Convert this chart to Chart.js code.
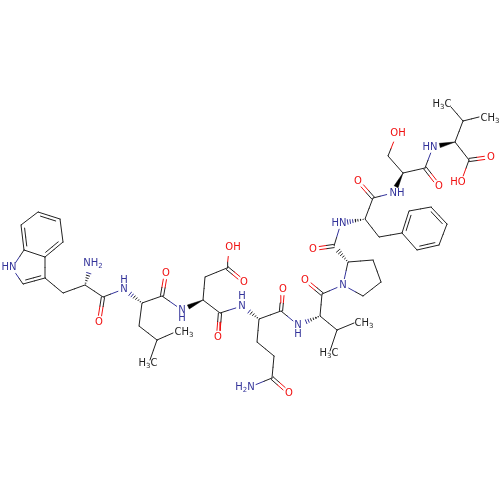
<!DOCTYPE html>
<html>
<head>
<meta charset="utf-8">
<script src="https://cdn.jsdelivr.net/npm/chart.js@4/dist/chart.umd.min.js"></script>
<style>
  html, body { margin: 0; padding: 0; background: #fff; }
  #molecule { display: block; }
</style>
</head>
<body>
<canvas id="molecule" width="500" height="500"></canvas>
<script>
// atoms: element letter and position on the 0-500 axes
const atomElement = [
  "C","C","C","C","C","C","N","C","C","C","C","C","N","O",      // 0-13  Trp
  "N","C","C","O","C","C","C","C",                              // 14-21 Leu
  "N","C","C","C","O","O","C","O",                              // 22-29 Asp
  "N","C","C","O","C","C","C","O","N",                          // 30-38 Gln
  "N","C","C","O","C","C","C",                                  // 39-45 Val
  "N","C","C","C","C","C","O",                                  // 46-52 Pro
  "N","C","C","O","C","C","C","C","C","C","C",                  // 53-63 Phe
  "N","C","C","O","C","O",                                      // 64-69 Ser
  "N","C","C","O","O","C","C","C"                               // 70-77 Val
];
const atomX = [
  38,60,63,45,24,21,12,23,45,63,85,103,91,99,
  124,142,162,166,139,157,150,173,
  182,203,220,205,218,229,227,244,
  242,259,281,283,257,274,272,289,250,
  298,320,322,305,337,354,330,
  343,348,373,381,363,334,313,
  341,365,373,358,379,402,409,431,447,439,417,
  393,403,425,439,388,396,
  433,455,469,491,461,463,479,451
];
const atomY = [
  212,219,242,257,250,225,268,284,278,293,285,297,266,322,
  289,303,296,273,326,340,360,333,
  310,300,313,277,337,250,268,282,
  306,319,311,289,342,356,378,393,387,
  325,316,294,280,330,323,351,
  285,262,260,282,296,246,249,
  223,219,198,181,237,233,211,207,224,245,250,
  193,173,168,186,156,136,
  147,142,160,157,182,121,117,107
];

// bonds between atom indexes. type: 1 single, 2 double, 3 ring double, 4 wedge, 5 hash
const bondFrom = [
  0,1,2,3,4,5,4,6,7,8,8,9,10,10,11,11,
  15,15,16,15,18,19,19,
  16,23,23,23,24,24,25,28,28,
  31,31,32,32,31,34,35,36,36,
  40,40,41,41,40,43,43,
  47,47,48,49,50,47,51,51,
  54,54,55,55,54,57,58,59,60,61,62,63,
  65,65,66,65,68,66,
  71,71,72,72,71,75,75
];
const bondTo = [
  1,2,3,4,5,0,6,7,8,3,9,10,12,11,13,14,
  14,16,17,18,19,20,21,
  22,22,24,25,26,30,28,27,29,
  30,32,33,39,34,35,36,37,38,
  39,41,42,46,43,44,45,
  46,48,49,50,46,51,52,53,
  53,55,56,64,57,58,59,60,61,62,63,58,
  64,66,67,68,69,70,
  70,72,73,74,75,76,77
];
const bondType = [
  3,1,3,1,3,1,1,1,3,1,1,1,5,1,2,1,
  5,1,2,1,1,1,1,
  1,4,1,1,2,1,1,1,2,
  5,1,2,1,1,1,1,2,1,
  5,1,2,1,1,1,1,
  1,1,1,1,1,5,2,1,
  5,1,2,1,1,1,3,1,3,1,3,1,
  4,1,2,1,1,1,
  4,1,2,1,1,1,1
];
const ringCentreX = [42, 425, 32];
const ringCentreY = [235, 228, 266];

// text labels, digits are drawn as subscripts
const labelText = [
  "HN","NH2","O","N","H","O","H3C","CH3","N","H","OH","O","O","N","H","O",
  "H2N","O","N","H","O","N","O","HN","O","NH","CH3","H3C","OH","O","HN","O","HO","CH3","H3C"
];
const labelX = [
  9,93,99,124,124,166,148,184,182,182,233,244,218,242,242,283,
  245,289,298,298,305,343,313,339,358,397,364,329,398,439,430,491,458,490,442
];
const labelY = [
  267,263,322,289,280,273,363,332,310,318,247,282,337,306,296,289,
  387,393,325,334,280,285,249,223,181,193,323,353,133,186,147,157,182,118,104
];

const INK = "#222222";
const BLUE = "#33339a";
const RED = "#f01010";
const FONT = "10px 'DejaVu Sans', sans-serif";
const SUB_FONT = "7px 'DejaVu Sans', sans-serif";
const LABEL_GAP = 6.5;

const elementColor = e => e === "N" ? BLUE : e === "O" ? RED : INK;
const isHetero = i => atomElement[i] !== "C";
const labelColor = t => t.includes("C") ? INK : t.includes("N") ? BLUE : t === "H" ? BLUE : RED;

// pieces of line per colour, NaN points break the line between them
const pieces = { [INK]: [], [BLUE]: [], [RED]: [] };
const wedges = [];

function addPiece(color, x1, y1, x2, y2) {
  pieces[color].push({ x: x1, y: y1 }, { x: x2, y: y2 }, { x: NaN, y: NaN });
}

function addHalves(a, b, x1, y1, x2, y2) {
  const mx = (x1 + x2) / 2;
  const my = (y1 + y2) / 2;
  addPiece(elementColor(atomElement[a]), x1, y1, mx, my);
  addPiece(elementColor(atomElement[b]), mx, my, x2, y2);
}

bondFrom.forEach((a, k) => {
  const b = bondTo[k];
  const type = bondType[k];
  const len = Math.hypot(atomX[b] - atomX[a], atomY[b] - atomY[a]);
  const ux = (atomX[b] - atomX[a]) / len;
  const uy = (atomY[b] - atomY[a]) / len;
  const trimA = isHetero(a) ? LABEL_GAP : 0;
  const trimB = isHetero(b) ? LABEL_GAP : 0;
  const x1 = atomX[a] + ux * trimA;
  const y1 = atomY[a] + uy * trimA;
  const x2 = atomX[b] - ux * trimB;
  const y2 = atomY[b] - uy * trimB;
  const nx = -uy;
  const ny = ux;

  if (type === 1) {
    addHalves(a, b, x1, y1, x2, y2);
  } else if (type === 2) {
    addHalves(a, b, x1 + nx * 1.6, y1 + ny * 1.6, x2 + nx * 1.6, y2 + ny * 1.6);
    addHalves(a, b, x1 - nx * 1.6, y1 - ny * 1.6, x2 - nx * 1.6, y2 - ny * 1.6);
  } else if (type === 3) {
    // inner line goes on the side of the nearest ring centre
    const mx = (x1 + x2) / 2;
    const my = (y1 + y2) / 2;
    let best = 0;
    ringCentreX.forEach((cx, r) => {
      if (Math.hypot(cx - mx, ringCentreY[r] - my) < Math.hypot(ringCentreX[best] - mx, ringCentreY[best] - my)) best = r;
    });
    const side = (ringCentreX[best] - mx) * nx + (ringCentreY[best] - my) * ny > 0 ? 1 : -1;
    addHalves(a, b, x1, y1, x2, y2);
    addHalves(a, b,
      x1 + ux * 3.5 + nx * side * 3.2, y1 + uy * 3.5 + ny * side * 3.2,
      x2 - ux * 3.5 + nx * side * 3.2, y2 - uy * 3.5 + ny * side * 3.2);
  } else if (type === 4) {
    const end = len - Math.max(trimB, 7);
    const ex = atomX[a] + ux * end;
    const ey = atomY[a] + uy * end;
    wedges.push([
      { x: atomX[a], y: atomY[a] },
      { x: ex + nx * 2.2, y: ey + ny * 2.2 },
      { x: ex - nx * 2.2, y: ey - ny * 2.2 },
      { x: atomX[a], y: atomY[a] }
    ]);
  } else {
    const end = len - Math.max(trimB, 5);
    for (let d = 2; d < end; d += 2.6) {
      const cx = atomX[a] + ux * d;
      const cy = atomY[a] + uy * d;
      const w = 2.4 * d / end;
      const color = d > len / 2 ? elementColor(atomElement[b]) : INK;
      addPiece(color, cx + nx * w, cy + ny * w, cx - nx * w, cy - ny * w);
    }
  }
});

const labelPlugin = {
  id: "atomLabels",
  afterDatasetsDraw(chart) {
    const ctx = chart.ctx;
    const xs = chart.scales.x;
    const ys = chart.scales.y;
    ctx.save();
    ctx.textBaseline = "middle";
    ctx.textAlign = "left";
    labelText.forEach((text, i) => {
      const parts = text.match(/[A-Z]|\d/g);
      const widthOf = p => {
        ctx.font = /\d/.test(p) ? SUB_FONT : FONT;
        return ctx.measureText(p).width;
      };
      const total = parts.reduce((sum, p) => sum + widthOf(p), 0);
      let px = xs.getPixelForValue(labelX[i]) - total / 2;
      const py = ys.getPixelForValue(labelY[i]);
      ctx.fillStyle = labelColor(text);
      parts.forEach(p => {
        const w = widthOf(p);
        ctx.fillText(p, px, /\d/.test(p) ? py + 3 : py);
        px += w;
      });
    });
    ctx.restore();
  }
};

const lineDatasets = Object.keys(pieces).map(color => ({
  data: pieces[color],
  showLine: true,
  spanGaps: false,
  borderColor: color,
  borderWidth: 1,
  borderCapStyle: "round",
  pointRadius: 0,
  fill: false
}));

const wedgeDatasets = wedges.map(w => ({
  data: w,
  showLine: true,
  borderColor: "#000",
  borderWidth: 0.5,
  backgroundColor: "#000",
  pointRadius: 0,
  fill: "shape"
}));

new Chart(document.getElementById("molecule"), {
  type: "scatter",
  data: { datasets: lineDatasets.concat(wedgeDatasets) },
  options: {
    responsive: false,
    animation: false,
    layout: { padding: 0 },
    plugins: {
      legend: { display: false },
      tooltip: { enabled: false }
    },
    scales: {
      x: { type: "linear", min: 0, max: 500, display: false },
      y: { type: "linear", min: 0, max: 500, reverse: true, display: false }
    }
  },
  plugins: [labelPlugin]
});
</script>
</body>
</html>
